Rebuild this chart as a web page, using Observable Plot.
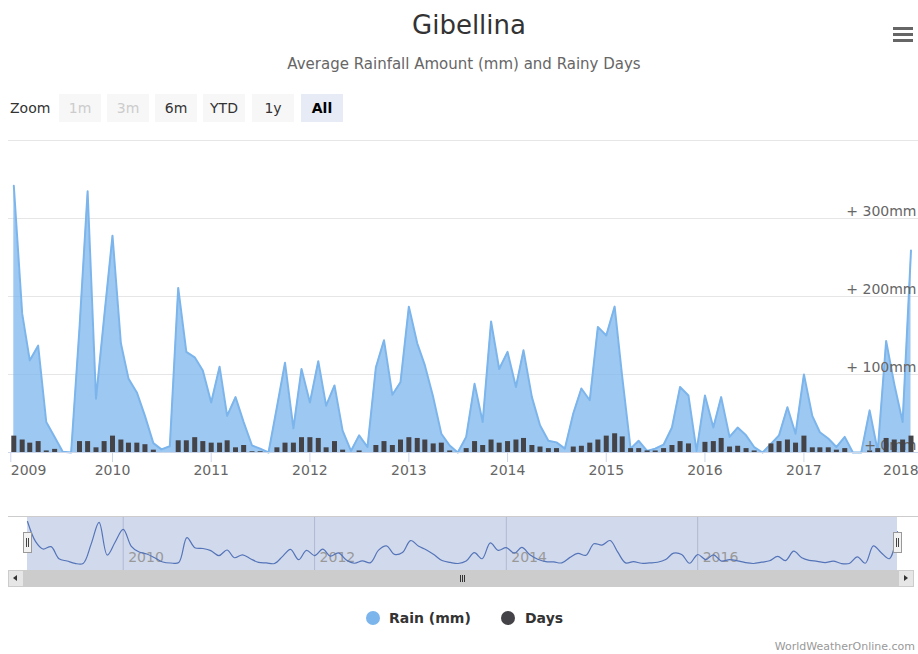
<!DOCTYPE html>
<html><head><meta charset="utf-8">
<script src="https://cdn.jsdelivr.net/npm/d3@7"></script>
<script src="https://cdn.jsdelivr.net/npm/@observablehq/plot@0.6"></script>
<style>
body{margin:0;background:#fff;font-family:"DejaVu Sans",sans-serif;}
#wrap{position:relative;width:918px;height:654px;overflow:hidden;background:#fff;}
.abs{position:absolute;white-space:nowrap;}
.btn{position:absolute;top:94px;width:42px;height:28px;line-height:28px;text-align:center;font-size:14px;background:#f7f7f7;color:#333;}
.btn.dis{color:#ccc;}
.btn.sel{background:#e6ebf5;color:#000;font-weight:bold;}
.bar{position:absolute;left:893px;width:20px;height:3px;background:#666;}
.handle{position:absolute;top:532px;width:7px;height:19px;background:#f2f2f2;border:1px solid #999;}
.handle i{position:absolute;top:5px;width:1px;height:9px;background:#444;}
.grip{position:absolute;top:575px;width:1px;height:7px;background:#333;}
</style></head>
<body><div id="wrap">
<div class="abs" style="left:10px;width:918px;top:12px;text-align:center;font-size:26px;line-height:26px;color:#333;">Gibellina</div>
<div class="abs" style="left:5px;width:918px;top:57px;text-align:center;font-size:15px;line-height:15px;color:#666;">Average Rainfall Amount (mm) and Rainy Days</div>
<div class="bar" style="top:27px"></div><div class="bar" style="top:33px"></div><div class="bar" style="top:39px"></div>
<div class="abs" style="left:10px;top:101px;font-size:14px;line-height:14px;color:#333;">Zoom</div>
<div class="btn dis" style="left:59px">1m</div>
<div class="btn dis" style="left:107px">3m</div>
<div class="btn" style="left:155px">6m</div>
<div class="btn" style="left:203px">YTD</div>
<div class="btn" style="left:252px">1y</div>
<div class="btn sel" style="left:301px">All</div>
<div id="main" class="abs" style="left:0;top:130px;"></div>
<div class="abs" style="left:8px;top:516px;width:910px;height:1px;background:#ccc;"></div>
<div id="nav" class="abs" style="left:0;top:517px;"></div>
<div class="handle" style="left:23px"><i style="left:2px"></i><i style="left:4px"></i></div>
<div class="handle" style="left:893px"><i style="left:2px"></i><i style="left:4px"></i></div>
<div class="abs" style="left:8px;top:570px;width:906px;height:17px;background:#f2f2f2;"></div>
<div class="abs" style="left:24px;top:570px;width:874px;height:17px;background:#cccccc;"></div>
<div class="abs" style="left:8px;top:570px;width:14px;height:15px;background:#e6e6e6;border:1px solid #ccc;"></div>
<div class="abs" style="left:13px;top:575px;width:0;height:0;border-top:3px solid transparent;border-bottom:3px solid transparent;border-right:4px solid #333;"></div>
<div class="abs" style="left:898px;top:570px;width:14px;height:15px;background:#e6e6e6;border:1px solid #ccc;"></div>
<div class="abs" style="left:904px;top:575px;width:0;height:0;border-top:3px solid transparent;border-bottom:3px solid transparent;border-left:4px solid #333;"></div>
<div class="grip" style="left:460px"></div><div class="grip" style="left:462px"></div><div class="grip" style="left:464px"></div>
<div class="abs" style="left:366px;top:611px;width:14px;height:14px;border-radius:50%;background:#7cb5ec;"></div>
<div class="abs" style="left:389px;top:611px;font-size:14px;line-height:14px;font-weight:bold;color:#333;">Rain (mm)</div>
<div class="abs" style="left:501px;top:611px;width:14px;height:14px;border-radius:50%;background:#434348;"></div>
<div class="abs" style="left:525px;top:611px;font-size:14px;line-height:14px;font-weight:bold;color:#333;">Days</div>
<div class="abs" style="right:3px;top:641px;font-size:11px;line-height:11px;color:#999;">WorldWeatherOnline.com</div>
</div>
<script>
// Monthly data, Jan 2009 – Feb 2018
const firstMonth = "2009-01-01";
const rain = [
  342,178,118,137,39,20,1,0,160,335,69,173,   // 2009
  278,140,95,77,47,12,4,8,211,129,122,105,    // 2010
  64,110,47,71,39,9,5,0,58,115,31,107,        // 2011
  64,117,60,86,28,2,22,7,109,144,74,90,       // 2012
  187,140,112,71,24,9,0,20,88,39,168,107,     // 2013
  129,84,131,71,35,15,13,5,50,82,67,161,      // 2014
  150,187,97,5,15,2,5,10,32,84,73,2,          // 2015
  73,32,71,20,32,22,7,0,11,22,58,24,          // 2016
  100,47,26,18,7,20,0,0,54,2,143,88,          // 2017
  39,259                                      // 2018
];
const days = [
  21,16,12,14,2,4,0,0,14,14,6,14,
  21,16,12,12,10,3,0,0,15,15,19,14,
  12,12,15,6,9,1,1,0,6,12,12,19,
  19,18,6,14,3,0,2,0,9,14,9,16,
  19,18,16,11,12,2,0,5,14,9,16,12,
  14,16,18,9,7,5,5,0,7,8,12,16,
  21,24,20,5,5,2,2,5,9,14,11,0,
  13,14,18,7,8,5,2,0,11,14,16,12,
  21,6,6,6,3,5,0,0,2,5,18,16,
  16,21
];
const yearLabels = ["2009","2010","2011","2012","2013","2014","2015","2016","2017","2018"];
const navYearLabels = ["2010","2012","2014","2016"];
const gridValues = [100,200,300,400];
const yLabelValues = [0,100,200,300];

const start = new Date(firstMonth + "T00:00:00Z");
const data = rain.map((r, i) => ({date: d3.utcMonth.offset(start, i), rain: r, days: days[i]}));
const first = data[0].date, last = data[data.length - 1].date;
const yearDates = yearLabels.map(y => new Date(y + "-01-01T00:00:00Z"));
const navYearDates = navYearLabels.map(y => new Date(y + "-01-01T00:00:00Z"));
const yFmt = v => v === 0 ? "+ 0mm" : "+ " + v + "mm";
const yearFmt = d3.utcFormat("%Y");
const n = yearDates.length;

const main = Plot.plot({
  width: 918, height: 350,
  marginTop: 10, marginBottom: 28, marginLeft: 8, marginRight: 0,
  style: {fontFamily: "DejaVu Sans", fontSize: "14px", color: "#666", background: "transparent", overflow: "visible"},
  x: {type: "utc", domain: [first, last], range: [13.3, 910.5]},
  y: {domain: [0, 400]},
  marks: [
    Plot.ruleY(gridValues, {stroke: "#e6e6e6", strokeOpacity: 1}),
    Plot.areaY(data, {x: "date", y: "rain", fill: "#7cb5ec", fillOpacity: 0.75}),
    Plot.lineY(data, {x: "date", y: "rain", stroke: "#7cb5ec", strokeWidth: 2}),
    Plot.axisY({anchor: "right", ticks: yLabelValues, tickSize: 0, tickPadding: 0, dx: -2, dy: -7,
      textAnchor: "end", tickFormat: yFmt, fill: "#666"}),
    Plot.ruleX(data, {x: "date", y1: 0, y2: "days", stroke: "#434348", strokeWidth: 5}),
    Plot.ruleY([0], {stroke: "#ccd6eb"}),
    Plot.axisX({ticks: yearDates.slice(1, n - 1), tickSize: 10, tickPadding: 3, tickFormat: yearFmt, stroke: "#ccd6eb", fill: "#666"}),
    Plot.axisX({ticks: yearDates.slice(0, 1), tickSize: 10, tickPadding: 3, tickFormat: yearFmt, textAnchor: "start", dx: -3, stroke: "#ccd6eb", fill: "#666"}),
    Plot.axisX({ticks: yearDates.slice(n - 1), tickSize: 10, tickPadding: 3, tickFormat: yearFmt, textAnchor: "end", dx: 16, stroke: "#ccd6eb", fill: "#666"})
  ]
});
document.getElementById("main").appendChild(main);

const nav = Plot.plot({
  width: 918, height: 53,
  marginTop: 0, marginBottom: 0, marginLeft: 8, marginRight: 0,
  style: {fontFamily: "DejaVu Sans", fontSize: "14px", background: "transparent"},
  x: {type: "utc", domain: [first, last], range: [27, 897], axis: null},
  y: {domain: [0, d3.max(rain)], range: [46, 4], axis: null},
  marks: [
    Plot.rect([0], {x1: () => first, x2: () => last, fill: "#6685c2", fillOpacity: 0.3}),
    Plot.ruleX(navYearDates, {stroke: "#aeb8d0", strokeWidth: 1}),
    Plot.text(navYearDates, {x: d => d, text: yearFmt, frameAnchor: "bottom", dy: -9, dx: 5, textAnchor: "start", fill: "#999"}),
    Plot.line(data, {x: "date", y: "rain", curve: "catmull-rom", stroke: "#5574b8", strokeWidth: 1.2})
  ]
});
document.getElementById("nav").appendChild(nav);
</script>
</body></html>
